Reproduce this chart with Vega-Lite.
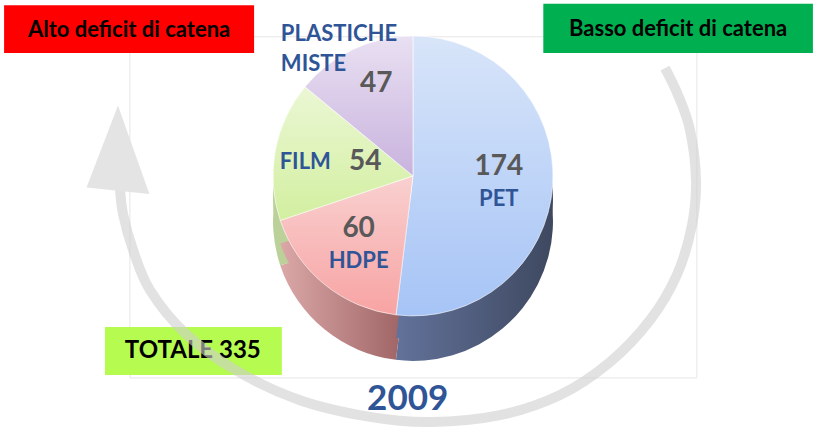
{
  "$schema": "https://vega.github.io/schema/vega-lite/v6.json",
  "autosize": "none",
  "width": 817,
  "height": 428,
  "padding": 0,
  "background": "#ffffff",
  "config": {"view": {"stroke": null}, "font": "Lato"},
  "datasets": {
    "fette": [
      {"materiale": "PET", "valore": 174},
      {"materiale": "HDPE", "valore": 60},
      {"materiale": "FILM", "valore": 54},
      {"materiale": "PLASTICHE MISTE", "valore": 47}
    ],
    "riquadri": [
      {"testo": "Alto deficit di catena", "tipo": "alto", "x0": 0.5, "x1": 31.1, "y0": 1.2, "y1": 12.4, "xc": 15.8, "yc": 6.9},
      {"testo": "Basso deficit di catena", "tipo": "basso", "x0": 66.5, "x1": 99.5, "y0": 0.9, "y1": 12.4, "xc": 83.0, "yc": 6.7},
      {"testo": "TOTALE 335", "tipo": "totale", "x0": 12.85, "x1": 34.5, "y0": 76.4, "y1": 87.6, "xc": 23.6, "yc": 82.0}
    ],
    "cornice": [{"x0": 15.9, "x1": 85.3, "y0": 8.6, "y1": 88.3}],
    "freccia": [
      {"ordine": 1, "x": 14.69, "y": 43.9},
      {"ordine": 2, "x": 15.06, "y": 50.0},
      {"ordine": 3, "x": 16.28, "y": 58.4},
      {"ordine": 4, "x": 18.36, "y": 67.8},
      {"ordine": 5, "x": 22.64, "y": 77.8},
      {"ordine": 6, "x": 28.76, "y": 86.4},
      {"ordine": 7, "x": 36.72, "y": 93.5},
      {"ordine": 8, "x": 45.29, "y": 97.4},
      {"ordine": 9, "x": 52.63, "y": 98.6},
      {"ordine": 10, "x": 61.2, "y": 97.0},
      {"ordine": 11, "x": 68.54, "y": 92.3},
      {"ordine": 12, "x": 74.66, "y": 84.6},
      {"ordine": 13, "x": 79.56, "y": 74.8},
      {"ordine": 14, "x": 82.86, "y": 64.2},
      {"ordine": 15, "x": 84.7, "y": 52.6},
      {"ordine": 16, "x": 85.19, "y": 42.1},
      {"ordine": 17, "x": 84.46, "y": 30.4},
      {"ordine": 18, "x": 82.99, "y": 22.2},
      {"ordine": 19, "x": 81.4, "y": 15.9}
    ],
    "punta": [{"x": 14.44, "y": 34.6}],
    "anno": [{"testo": "2009", "x": 49.9, "y": 93.2}]
  },
  "resolve": {"scale": {"color": "independent"}},
  "layer": [
    {
      "data": {"name": "cornice"},
      "mark": {"type": "rect", "fill": "#ffffff", "fillOpacity": 0, "stroke": "#e6e6e6", "strokeWidth": 1},
      "encoding": {
        "x": {"field": "x0", "type": "quantitative", "scale": {"domain": [0, 100], "nice": false, "zero": false}, "axis": null},
        "x2": {"field": "x1"},
        "y": {"field": "y0", "type": "quantitative", "scale": {"domain": [0, 100], "nice": false, "zero": false, "reverse": true}, "axis": null},
        "y2": {"field": "y1"}
      }
    },
    {
      "data": {"name": "fette"},
      "transform": [{"stack": "valore", "groupby": [], "sort": [{"field": "valore", "order": "descending"}], "as": ["t0", "t1"]}, {"filter": "datum.materiale === 'PET'"}],
      "mark": {"type": "arc", "outerRadius": 140, "yOffset": 45, "color": {"gradient": "linear", "x1": 0, "y1": 0, "x2": 1, "y2": 0, "stops": [{"offset": 0, "color": "#62729a"}, {"offset": 1, "color": "#3e4860"}]}},
      "encoding": {
        "x": {"datum": 50.55, "type": "quantitative"},
        "y": {"datum": 41.1, "type": "quantitative"},
        "theta": {"field": "t0", "type": "quantitative"},
        "theta2": {"field": "t1"}
      }
    },
    {
      "data": {"name": "fette"},
      "transform": [{"stack": "valore", "groupby": [], "sort": [{"field": "valore", "order": "descending"}], "as": ["t0", "t1"]}, {"filter": "datum.materiale === 'HDPE'"}],
      "mark": {"type": "arc", "outerRadius": 140, "yOffset": 45, "color": {"gradient": "linear", "x1": 0, "y1": 0, "x2": 1, "y2": 0, "stops": [{"offset": 0, "color": "#dba7a7"}, {"offset": 1, "color": "#9a5f60"}]}},
      "encoding": {
        "x": {"datum": 50.55, "type": "quantitative"},
        "y": {"datum": 41.1, "type": "quantitative"},
        "theta": {"field": "t0", "type": "quantitative"},
        "theta2": {"field": "t1"}
      }
    },
    {
      "data": {"name": "fette"},
      "transform": [{"stack": "valore", "groupby": [], "sort": [{"field": "valore", "order": "descending"}], "as": ["t0", "t1"]}, {"filter": "datum.materiale === 'FILM'"}],
      "mark": {"type": "arc", "outerRadius": 140, "yOffset": 45, "color": "#bcd19a"},
      "encoding": {
        "x": {"datum": 50.55, "type": "quantitative"},
        "y": {"datum": 41.1, "type": "quantitative"},
        "theta": {"field": "t0", "type": "quantitative"},
        "theta2": {"field": "t1"}
      }
    },
    {
      "data": {"name": "fette"},
      "transform": [{"stack": "valore", "groupby": [], "sort": [{"field": "valore", "order": "descending"}], "as": ["t0", "t1"]}, {"filter": "datum.materiale === 'PET'"}],
      "mark": {"type": "arc", "outerRadius": 140, "yOffset": 23, "color": {"gradient": "linear", "x1": 0, "y1": 0, "x2": 1, "y2": 0, "stops": [{"offset": 0, "color": "#62729a"}, {"offset": 1, "color": "#3e4860"}]}},
      "encoding": {
        "x": {"datum": 50.55, "type": "quantitative"},
        "y": {"datum": 41.1, "type": "quantitative"},
        "theta": {"field": "t0", "type": "quantitative"},
        "theta2": {"field": "t1"}
      }
    },
    {
      "data": {"name": "fette"},
      "transform": [{"stack": "valore", "groupby": [], "sort": [{"field": "valore", "order": "descending"}], "as": ["t0", "t1"]}, {"filter": "datum.materiale === 'HDPE'"}],
      "mark": {"type": "arc", "outerRadius": 140, "yOffset": 23, "color": {"gradient": "linear", "x1": 0, "y1": 0, "x2": 1, "y2": 0, "stops": [{"offset": 0, "color": "#dba7a7"}, {"offset": 1, "color": "#9a5f60"}]}},
      "encoding": {
        "x": {"datum": 50.55, "type": "quantitative"},
        "y": {"datum": 41.1, "type": "quantitative"},
        "theta": {"field": "t0", "type": "quantitative"},
        "theta2": {"field": "t1"}
      }
    },
    {
      "data": {"name": "fette"},
      "transform": [{"stack": "valore", "groupby": [], "sort": [{"field": "valore", "order": "descending"}], "as": ["t0", "t1"]}, {"filter": "datum.materiale === 'FILM'"}],
      "mark": {"type": "arc", "outerRadius": 140, "yOffset": 23, "color": "#bcd19a"},
      "encoding": {
        "x": {"datum": 50.55, "type": "quantitative"},
        "y": {"datum": 41.1, "type": "quantitative"},
        "theta": {"field": "t0", "type": "quantitative"},
        "theta2": {"field": "t1"}
      }
    },
    {
      "data": {"name": "fette"},
      "transform": [{"stack": "valore", "groupby": [], "sort": [{"field": "valore", "order": "descending"}], "as": ["t0", "t1"]}, {"filter": "datum.materiale === 'PET'"}],
      "mark": {"type": "arc", "outerRadius": 140, "stroke": "#ffffff", "strokeWidth": 1, "strokeOpacity": 0.6, "color": {"gradient": "linear", "x1": 0, "y1": 0, "x2": 0, "y2": 1, "stops": [{"offset": 0, "color": "#d8e5f9"}, {"offset": 1, "color": "#a6c4f6"}]}},
      "encoding": {
        "x": {"datum": 50.55, "type": "quantitative"},
        "y": {"datum": 41.1, "type": "quantitative"},
        "theta": {"field": "t0", "type": "quantitative"},
        "theta2": {"field": "t1"}
      }
    },
    {
      "data": {"name": "fette"},
      "transform": [{"stack": "valore", "groupby": [], "sort": [{"field": "valore", "order": "descending"}], "as": ["t0", "t1"]}, {"filter": "datum.materiale === 'HDPE'"}],
      "mark": {"type": "arc", "outerRadius": 140, "stroke": "#ffffff", "strokeWidth": 1, "strokeOpacity": 0.6, "color": {"gradient": "linear", "x1": 0, "y1": 0, "x2": 0, "y2": 1, "stops": [{"offset": 0, "color": "#f9d0d0"}, {"offset": 1, "color": "#f8a3a3"}]}},
      "encoding": {
        "x": {"datum": 50.55, "type": "quantitative"},
        "y": {"datum": 41.1, "type": "quantitative"},
        "theta": {"field": "t0", "type": "quantitative"},
        "theta2": {"field": "t1"}
      }
    },
    {
      "data": {"name": "fette"},
      "transform": [{"stack": "valore", "groupby": [], "sort": [{"field": "valore", "order": "descending"}], "as": ["t0", "t1"]}, {"filter": "datum.materiale === 'FILM'"}],
      "mark": {"type": "arc", "outerRadius": 140, "stroke": "#ffffff", "strokeWidth": 1, "strokeOpacity": 0.6, "color": {"gradient": "linear", "x1": 0, "y1": 0, "x2": 0, "y2": 1, "stops": [{"offset": 0, "color": "#ebf7d4"}, {"offset": 1, "color": "#d2efa0"}]}},
      "encoding": {
        "x": {"datum": 50.55, "type": "quantitative"},
        "y": {"datum": 41.1, "type": "quantitative"},
        "theta": {"field": "t0", "type": "quantitative"},
        "theta2": {"field": "t1"}
      }
    },
    {
      "data": {"name": "fette"},
      "transform": [{"stack": "valore", "groupby": [], "sort": [{"field": "valore", "order": "descending"}], "as": ["t0", "t1"]}, {"filter": "datum.materiale === 'PLASTICHE MISTE'"}],
      "mark": {"type": "arc", "outerRadius": 140, "stroke": "#ffffff", "strokeWidth": 1, "strokeOpacity": 0.6, "color": {"gradient": "linear", "x1": 0, "y1": 0, "x2": 0, "y2": 1, "stops": [{"offset": 0, "color": "#e9e0f2"}, {"offset": 1, "color": "#c9b3de"}]}},
      "encoding": {
        "x": {"datum": 50.55, "type": "quantitative"},
        "y": {"datum": 41.1, "type": "quantitative"},
        "theta": {"field": "t0", "type": "quantitative"},
        "theta2": {"field": "t1"}
      }
    },
    {
      "data": {"name": "fette"},
      "mark": {"type": "text", "radius": 86, "dy": -14, "fontSize": 28, "fontWeight": "bold", "color": "#595959"},
      "encoding": {
        "x": {"datum": 50.55, "type": "quantitative"},
        "y": {"datum": 41.1, "type": "quantitative"},
        "theta": {"field": "valore", "type": "quantitative", "stack": true},
        "order": {"field": "valore", "sort": "descending"},
        "text": {"condition": {"test": "datum.materiale !== 'FILM'", "field": "valore", "type": "quantitative"}, "value": ""}
      }
    },
    {
      "data": {"name": "fette"},
      "mark": {"type": "text", "radius": 86, "dy": 18, "fontSize": 22, "fontWeight": "bold", "color": "#2f5597"},
      "encoding": {
        "x": {"datum": 50.55, "type": "quantitative"},
        "y": {"datum": 41.1, "type": "quantitative"},
        "theta": {"field": "valore", "type": "quantitative", "stack": true},
        "order": {"field": "valore", "sort": "descending"},
        "text": {"condition": {"test": "datum.materiale === 'PET' || datum.materiale === 'HDPE'", "field": "materiale", "type": "nominal"}, "value": ""}
      }
    },
    {
      "data": {"name": "fette"},
      "mark": {"type": "text", "radius": 76, "dx": -33, "fontSize": 22, "fontWeight": "bold", "color": "#2f5597"},
      "encoding": {
        "x": {"datum": 50.55, "type": "quantitative"},
        "y": {"datum": 41.1, "type": "quantitative"},
        "theta": {"field": "valore", "type": "quantitative", "stack": true},
        "order": {"field": "valore", "sort": "descending"},
        "text": {"condition": {"test": "datum.materiale === 'FILM'", "field": "materiale", "type": "nominal"}, "value": ""}
      }
    },
    {
      "data": {"name": "fette"},
      "mark": {"type": "text", "radius": 76, "dx": 27, "fontSize": 28, "fontWeight": "bold", "color": "#595959"},
      "encoding": {
        "x": {"datum": 50.55, "type": "quantitative"},
        "y": {"datum": 41.1, "type": "quantitative"},
        "theta": {"field": "valore", "type": "quantitative", "stack": true},
        "order": {"field": "valore", "sort": "descending"},
        "text": {"condition": {"test": "datum.materiale === 'FILM'", "field": "valore", "type": "quantitative"}, "value": ""}
      }
    },
    {
      "data": {"name": "fette"},
      "mark": {"type": "text", "radius": 155, "dx": -66, "dy": -2, "align": "left", "lineBreak": " ", "lineHeight": 30, "fontSize": 22, "fontWeight": "bold", "color": "#2f5597"},
      "encoding": {
        "x": {"datum": 50.55, "type": "quantitative"},
        "y": {"datum": 41.1, "type": "quantitative"},
        "theta": {"field": "valore", "type": "quantitative", "stack": true},
        "order": {"field": "valore", "sort": "descending"},
        "text": {"condition": {"test": "datum.materiale === 'PLASTICHE MISTE'", "field": "materiale", "type": "nominal"}, "value": ""}
      }
    },
    {
      "data": {"name": "riquadri"},
      "mark": {"type": "rect"},
      "encoding": {
        "x": {"field": "x0", "type": "quantitative"},
        "x2": {"field": "x1"},
        "y": {"field": "y0", "type": "quantitative"},
        "y2": {"field": "y1"},
        "color": {"field": "tipo", "type": "nominal", "legend": null,
          "scale": {"domain": ["alto", "basso", "totale"], "range": ["#ff0000", "#00b050", "#b5fb50"]}}
      }
    },
    {
      "data": {"name": "riquadri"},
      "transform": [{"filter": "datum.tipo !== 'totale'"}],
      "mark": {"type": "text", "fontSize": 22, "fontWeight": "bold", "color": "#000000"},
      "encoding": {
        "x": {"field": "xc", "type": "quantitative"},
        "y": {"field": "yc", "type": "quantitative"},
        "text": {"field": "testo"}
      }
    },
    {
      "data": {"name": "riquadri"},
      "transform": [{"filter": "datum.tipo === 'totale'"}],
      "mark": {"type": "text", "fontSize": 24, "fontWeight": "bold", "color": "#000000"},
      "encoding": {
        "x": {"field": "xc", "type": "quantitative"},
        "y": {"field": "yc", "type": "quantitative"},
        "text": {"field": "testo"}
      }
    },
    {
      "data": {"name": "freccia"},
      "mark": {"type": "line", "interpolate": "cardinal", "strokeWidth": 10, "color": "#cfcfcf", "opacity": 0.6, "strokeCap": "butt"},
      "encoding": {
        "x": {"field": "x", "type": "quantitative"},
        "y": {"field": "y", "type": "quantitative"},
        "order": {"field": "ordine"}
      }
    },
    {
      "data": {"name": "punta"},
      "mark": {"type": "point", "shape": "M0,-1L-0.74,0.93L0.74,1.08Z", "size": 7225, "filled": true, "color": "#e4e4e4", "opacity": 1, "strokeWidth": 0},
      "encoding": {
        "x": {"field": "x", "type": "quantitative"},
        "y": {"field": "y", "type": "quantitative"}
      }
    },
    {
      "data": {"name": "anno"},
      "mark": {"type": "text", "fontSize": 35, "fontWeight": "bold", "color": "#2f5597"},
      "encoding": {
        "x": {"field": "x", "type": "quantitative"},
        "y": {"field": "y", "type": "quantitative"},
        "text": {"field": "testo"}
      }
    }
  ]
}
